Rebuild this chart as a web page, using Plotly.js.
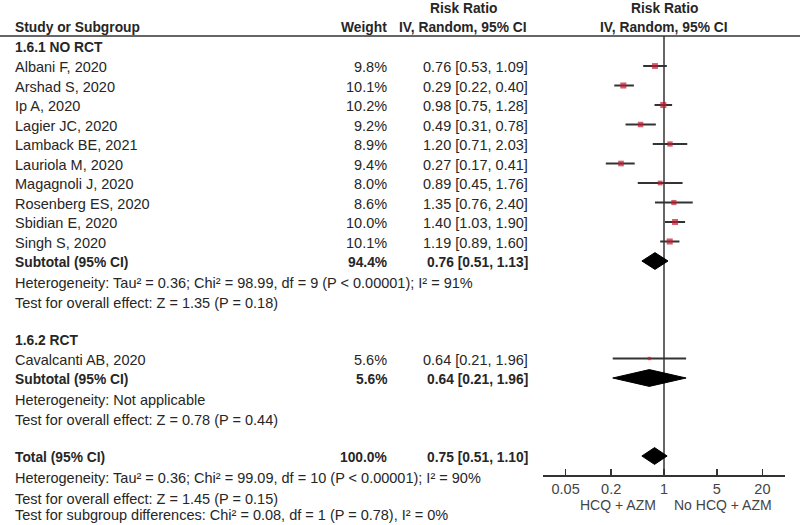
<!DOCTYPE html>
<html>
<head>
<meta charset="utf-8">
<script src="https://cdn.plot.ly/plotly-3.0.1.min.js"></script>
<style>html,body{margin:0;padding:0;background:#fff;}#chart{width:800px;height:525px;}</style>
</head>
<body>
<div id="chart"></div>
<script>
// ---------- data ----------
const groupNames = ["1.6.1 NO RCT", "1.6.2 RCT"];
const studyNames1 = ["Albani F, 2020", "Arshad S, 2020", "Ip A, 2020", "Lagier JC, 2020", "Lamback BE, 2021",
  "Lauriola M, 2020", "Magagnoli J, 2020", "Rosenberg ES, 2020", "Sbidian E, 2020", "Singh S, 2020"];
const weights1 = [9.8, 10.1, 10.2, 9.2, 8.9, 9.4, 8.0, 8.6, 10.0, 10.1];
const rr1 = [0.76, 0.29, 0.98, 0.49, 1.20, 0.27, 0.89, 1.35, 1.40, 1.19];
const lo1 = [0.53, 0.22, 0.75, 0.31, 0.71, 0.17, 0.45, 0.76, 1.03, 0.89];
const hi1 = [1.09, 0.40, 1.28, 0.78, 2.03, 0.41, 1.76, 2.40, 1.90, 1.60];
const studyNames2 = ["Cavalcanti AB, 2020"];
const weights2 = [5.6];
const rr2 = [0.64];
const lo2 = [0.21];
const hi2 = [1.96];
const subtotalWeights = [94.4, 5.6];
const subtotalRR = [0.76, 0.64];
const subtotalLo = [0.51, 0.21];
const subtotalHi = [1.13, 1.96];
const heterogeneityNotes = ["Heterogeneity: Tau² = 0.36; Chi² = 98.99, df = 9 (P < 0.00001); I² = 91%",
  "Heterogeneity: Not applicable"];
const overallNotes = ["Test for overall effect: Z = 1.35 (P = 0.18)", "Test for overall effect: Z = 0.78 (P = 0.44)"];
const totalWeight = [100.0];
const totalRR = [0.75];
const totalLo = [0.51];
const totalHi = [1.10];
const totalNotes = ["Heterogeneity: Tau² = 0.36; Chi² = 99.09, df = 10 (P < 0.00001); I² = 90%",
  "Test for overall effect: Z = 1.45 (P = 0.15)",
  "Test for subgroup differences: Chi² = 0.08, df = 1 (P = 0.78), I² = 0%"];
const tickValues = [0.05, 0.2, 1, 5, 20];
const tickLabels = ["0.05", "0.2", "1", "5", "20"];
const favoursLabels = ["HCQ + AZM", "No HCQ + AZM"];
const headerLabels = ["Study or Subgroup", "Weight", "Risk Ratio", "IV, Random, 95% CI"];

// ---------- styling / layout ----------
const W = 800, H = 525;
const FONT = "Liberation Sans, Arial, sans-serif";
const TXT = "#262626";
const REG = 14.5, BOLD = 13.8;
const nameX = 13 / W, weightX = 389 / W, ciX = 530 / W, ciHeadX = 463 / W;
const rowTop = 66, rowH = 19.5;               // px of row 0 and row pitch
const yTop = -rowTop / rowH, yBot = (H - rowTop) / rowH;
const axisPx = 475, headerRulePx = 36;
const fmt = v => v.toFixed(2);
const ciText = (e, l, h) => `${fmt(e)} [${fmt(l)}, ${fmt(h)}]`;

const groups = [
  {names: studyNames1, w: weights1, rr: rr1, lo: lo1, hi: hi1},
  {names: studyNames2, w: weights2, rr: rr2, lo: lo2, hi: hi2}
];

const annotations = [];
function txt(x, y, text, opts = {}) {
  annotations.push(Object.assign({
    xref: 'paper', yref: 'y', x: x, y: y, text: text, showarrow: false,
    xanchor: 'left', yanchor: 'middle', yshift: -1,
    font: {family: FONT, size: opts.bold ? BOLD : REG, color: TXT}
  }, opts.extra || {}, opts.bold ? {text: '<b>' + text + '</b>'} : {}));
}

const traces = [];
const studyX = [], studyY = [], studyW = [], errP = [], errM = [];
const diamonds = [];

let r = -1;
groups.forEach((g, gi) => {
  txt(nameX, r, groupNames[gi], {bold: true});
  r++;
  g.names.forEach((n, i) => {
    txt(nameX, r, n);
    txt(weightX, r, g.w[i].toFixed(1) + '%', {extra: {xanchor: 'right'}});
    txt(ciX, r, ciText(g.rr[i], g.lo[i], g.hi[i]), {extra: {xanchor: 'right'}});
    studyX.push(g.rr[i]); studyY.push(r); studyW.push(g.w[i]);
    errP.push(g.hi[i] - g.rr[i]); errM.push(g.rr[i] - g.lo[i]);
    r++;
  });
  txt(nameX, r, 'Subtotal (95% CI)', {bold: true});
  txt(weightX, r, subtotalWeights[gi].toFixed(1) + '%', {bold: true, extra: {xanchor: 'right'}});
  txt(ciX, r, ciText(subtotalRR[gi], subtotalLo[gi], subtotalHi[gi]), {bold: true, extra: {xanchor: 'right'}});
  diamonds.push({e: subtotalRR[gi], l: subtotalLo[gi], h: subtotalHi[gi], y: r});
  txt(nameX, r + 1.1, heterogeneityNotes[gi]);
  txt(nameX, r + 2.12, overallNotes[gi]);
  r += 4;
});
txt(nameX, r, 'Total (95% CI)', {bold: true});
txt(weightX, r, totalWeight[0].toFixed(1) + '%', {bold: true, extra: {xanchor: 'right'}});
txt(ciX, r, ciText(totalRR[0], totalLo[0], totalHi[0]), {bold: true, extra: {xanchor: 'right'}});
diamonds.push({e: totalRR[0], l: totalLo[0], h: totalHi[0], y: r});
totalNotes.forEach((n, i) => {
  if (i < totalNotes.length - 1) {
    txt(nameX, r + 1.1 + i * 1.03, n);
  } else {
    // last line sits on the bottom edge of the page
    txt(nameX, 0, n, {extra: {yref: 'paper', yanchor: 'bottom', yshift: 0}});
  }
});

// headers
const hdrY2 = (26.5 - rowTop) / rowH, hdrY1 = (7.5 - rowTop) / rowH;
txt(nameX, hdrY2, headerLabels[0], {bold: true});
txt(weightX, hdrY2, headerLabels[1], {bold: true, extra: {xanchor: 'right'}});
txt(ciHeadX, hdrY1, headerLabels[2], {bold: true, extra: {xanchor: 'center'}});
txt(ciHeadX, hdrY2, headerLabels[3], {bold: true, extra: {xanchor: 'center'}});
// plot column header centred on the line of no effect (log10(1) = 0)
[hdrY1, hdrY2].forEach((y, i) => annotations.push({
  xref: 'x', yref: 'y', x: 0, y: y, text: '<b>' + headerLabels[2 + i] + '</b>', showarrow: false,
  xanchor: 'center', yanchor: 'middle', yshift: -1,
  font: {family: FONT, size: BOLD, color: TXT}
}));
// favours labels under axis
const favY = (505 - rowTop) / rowH;
annotations.push({xref: 'x', yref: 'y', x: 0, y: favY, text: favoursLabels[0], showarrow: false,
  xanchor: 'right', yanchor: 'middle', xshift: -6, font: {family: FONT, size: 14, color: '#444'}});
annotations.push({xref: 'x', yref: 'y', x: 0, y: favY, text: favoursLabels[1], showarrow: false,
  xanchor: 'left', yanchor: 'middle', xshift: 8, font: {family: FONT, size: 14, color: '#444'}});

// diamonds
const dh = 0.43;
diamonds.forEach(d => traces.push({
  type: 'scatter', mode: 'lines', x: [d.l, d.e, d.h, d.e, d.l], y: [d.y, d.y - dh, d.y, d.y + dh, d.y],
  fill: 'toself', fillcolor: '#000', line: {color: '#000', width: 1}, hoverinfo: 'skip', showlegend: false
}));
// study points with CIs
traces.push({
  type: 'scatter', mode: 'markers', x: studyX, y: studyY,
  marker: {symbol: 'square', color: '#c21a2e', size: studyW.map(w => w * 0.6), line: {width: 0}},
  error_x: {type: 'data', symmetric: false, array: errP, arrayminus: errM, width: 0, thickness: 2, color: '#333'},
  showlegend: false, hoverinfo: 'skip'
});

const layout = {
  width: W, height: H, margin: {l: 0, r: 0, t: 0, b: 0},
  paper_bgcolor: '#fff', plot_bgcolor: 'rgba(0,0,0,0)', showlegend: false,
  xaxis: {
    type: 'log', range: [-1.6, 1.6], domain: [543 / W, 785 / W],
    anchor: 'free', position: (H - axisPx) / H,
    showgrid: false, zeroline: false, showline: true, linecolor: '#333', linewidth: 1.5,
    ticks: 'inside', ticklen: 6, tickwidth: 1.5, tickcolor: '#333',
    tickvals: tickValues, ticktext: tickLabels,
    tickfont: {family: FONT, size: 14.5, color: '#444'}, fixedrange: true
  },
  yaxis: {range: [yBot, yTop], domain: [0, 1], visible: false, fixedrange: true},
  shapes: [
    {type: 'line', xref: 'paper', yref: 'paper', x0: 0, x1: 1, y0: (H - headerRulePx) / H, y1: (H - headerRulePx) / H,
      line: {color: '#333', width: 1.5}},
    {type: 'line', xref: 'x', yref: 'paper', x0: 1, x1: 1, y0: (H - axisPx) / H, y1: (H - headerRulePx) / H,
      line: {color: '#333', width: 1.5}, layer: 'below'}
  ],
  annotations: annotations
};
Plotly.newPlot('chart', traces, layout, {displayModeBar: false, staticPlot: true});
</script>
</body>
</html>
